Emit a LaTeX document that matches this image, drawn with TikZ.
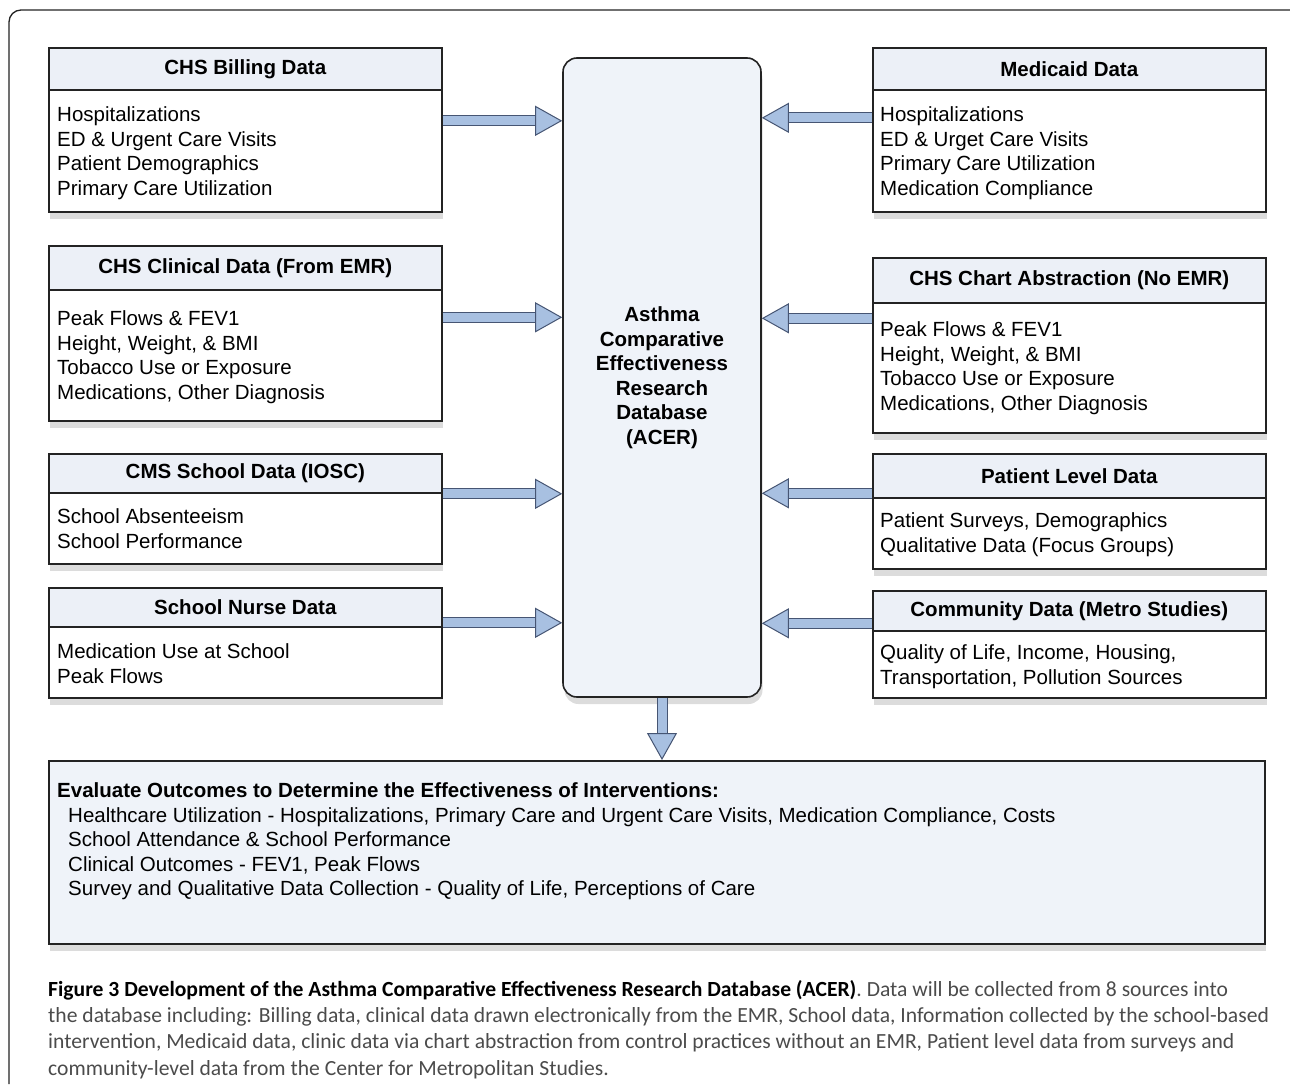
\documentclass[tikz,border=0pt]{standalone}
\usepackage{fontspec}
\setmainfont{Liberation Sans}
\newfontfamily\capfont{Carlito}
\usetikzlibrary{positioning,shadows,arrows.meta}
\definecolor{headfig}{RGB}{236, 240, 247}
\definecolor{acerfig}{RGB}{239, 243, 249}
\definecolor{arrowfig}{RGB}{168, 192, 225}
\definecolor{arrowedgefig}{RGB}{70, 85, 115}
\definecolor{linefig}{RGB}{35, 35, 35}
\definecolor{capfig}{RGB}{75, 75, 75}
\newcommand{\boxsize}{\fontsize{20.5}{24.5}\selectfont}
\tikzset{
    srcbox/.style={draw=linefig, line width=1.6pt, fill=white, anchor=north west, minimum width=393,
        drop shadow={shadow xshift=1.5pt, shadow yshift=-7pt, opacity=0.28}},
    headbox/.style={draw=linefig, line width=1.6pt, fill=headfig, anchor=north, minimum width=393,
        font=\boxsize\bfseries},
    bodytext/.style={anchor=base west, align=left, inner sep=0pt, font=\boxsize},
    acerbox/.style={draw=linefig, line width=1.6pt, fill=acerfig, rounded corners=14pt, align=center,
        font=\boxsize\bfseries, drop shadow={shadow xshift=1.5pt, shadow yshift=-7pt, opacity=0.28}},
    fatarrow/.style={line width=9pt, draw=arrowfig,
        preaction={draw=arrowedgefig, line width=11pt, arrows=-, shorten >=24pt},
        -{Triangle[width=30pt, length=27pt, fill=arrowfig, color=arrowedgefig, line width=1pt]}}
}
\begin{document}
\begin{tikzpicture}[x=1pt, y=-1pt]
    \useasboundingbox (0,0) rectangle (1290,1084);
    % outer frame
    \draw[linefig, line width=1.3pt, rounded corners=12pt] (9,1084) -- (9,10) -- (1290,10);

    % center database
    \node[acerbox, minimum width=198, minimum height=639] (acer) at (662,377.5)
        {Asthma\\Comparative\\Effectiveness\\Research\\Database\\(ACER)};

    % left sources (text anchored at last line)
    \node[srcbox, minimum height=164] (billing) at (48,47) {};
    \node[headbox, minimum height=42] (billinghead) at (billing.north) {CHS Billing Data};
    \node[bodytext] (billingtext) at ([shift={(9,104.5)}]billinghead.south west)
        {Hospitalizations\\ED \& Urgent Care Visits\\Patient Demographics\\Primary Care Utilization};

    \node[srcbox, minimum height=175] (clinical) at (48,245) {};
    \node[headbox, minimum height=44] (clinicalhead) at (clinical.north) {CHS Clinical Data (From EMR)};
    \node[bodytext] (clinicaltext) at ([shift={(9,108.5)}]clinicalhead.south west)
        {Peak Flows \& FEV1\\Height, Weight, \& BMI\\Tobacco Use or Exposure\\Medications, Other Diagnosis};

    \node[srcbox, minimum height=110] (school) at (48,453) {};
    \node[headbox, minimum height=39] (schoolhead) at (school.north) {CMS School Data (IOSC)};
    \node[bodytext] (schooltext) at ([shift={(9,54.5)}]schoolhead.south west)
        {School Absenteeism\\School Performance};

    \node[srcbox, minimum height=110] (nurse) at (48,587) {};
    \node[headbox, minimum height=39] (nursehead) at (nurse.north) {School Nurse Data};
    \node[bodytext] (nursetext) at ([shift={(9,55.5)}]nursehead.south west)
        {Medication Use at School\\Peak Flows};

    % right sources
    \node[srcbox, minimum height=164] (medicaid) at (872,47) {};
    \node[headbox, minimum height=42] (medicaidhead) at (medicaid.north) {Medicaid Data};
    \node[bodytext] (medicaidtext) at ([shift={(8,104.5)}]medicaidhead.south west)
        {Hospitalizations\\ED \& Urget Care Visits\\Primary Care Utilization\\Medication Compliance};

    \node[srcbox, minimum height=175] (chart) at (872,257) {};
    \node[headbox, minimum height=45] (charthead) at (chart.north) {CHS Chart Abstraction (No EMR)};
    \node[bodytext] (charttext) at ([shift={(8,106.5)}]charthead.south west)
        {Peak Flows \& FEV1\\Height, Weight, \& BMI\\Tobacco Use or Exposure\\Medications, Other Diagnosis};

    \node[srcbox, minimum height=115] (patient) at (872,453) {};
    \node[headbox, minimum height=44] (patienthead) at (patient.north) {Patient Level Data};
    \node[bodytext] (patienttext) at ([shift={(8,53.5)}]patienthead.south west)
        {Patient Surveys, Demographics\\Qualitative Data (Focus Groups)};

    \node[srcbox, minimum height=107] (community) at (872,590) {};
    \node[headbox, minimum height=40] (communityhead) at (community.north) {Community Data (Metro Studies)};
    \node[bodytext] (communitytext) at ([shift={(8,52.5)}]communityhead.south west)
        {Quality of Life, Income, Housing,\\Transportation, Pollution Sources};

    % outcomes
    \node[srcbox, fill=acerfig, minimum width=1216, minimum height=183] (outcome) at (48,760) {};
    \node[bodytext, font=\boxsize\bfseries] (outcomehead) at ([shift={(9,37)}]outcome.north west)
        {Evaluate Outcomes to Determine the Effectiveness of Interventions:};
    \node[bodytext] (outcometext) at ([shift={(20,135.5)}]outcome.north west)
        {Healthcare Utilization - Hospitalizations, Primary Care and Urgent Care Visits, Medication Compliance, Costs\\
         School Attendance \& School Performance\\
         Clinical Outcomes - FEV1, Peak Flows\\
         Survey and Qualitative Data Collection - Quality of Life, Perceptions of Care};

    % arrows into the database
    \foreach \src/\dy in {billing/9, clinical/16, school/15, nurse/20}
        \draw[fatarrow] ([yshift=\dy]\src.east) -- ([yshift=\dy]\src.east -| acer.west);
    \foreach \src/\dy in {medicaid/12, chart/27, patient/18, community/21}
        \draw[fatarrow] ([yshift=\dy]\src.west) -- ([yshift=\dy]\src.west -| acer.east);
    \draw[fatarrow] (acer.south) -- (acer.south |- outcome.north);

    % caption
    \node[bodytext, text=capfig, font=\capfont\fontsize{21.6}{26.3}\selectfont] (caption) at (48,1075)
        {{\bfseries\color{black}Figure 3 Development of the Asthma Comparative Effectiveness Research Database (ACER)}. Data will be collected from 8 sources into\\
         the database including: Billing data, clinical data drawn electronically from the EMR, School data, Information collected by the school-based\\
         intervention, Medicaid data, clinic data via chart abstraction from control practices without an EMR, Patient level data from surveys and\\
         community-level data from the Center for Metropolitan Studies.};
\end{tikzpicture}
\end{document}
